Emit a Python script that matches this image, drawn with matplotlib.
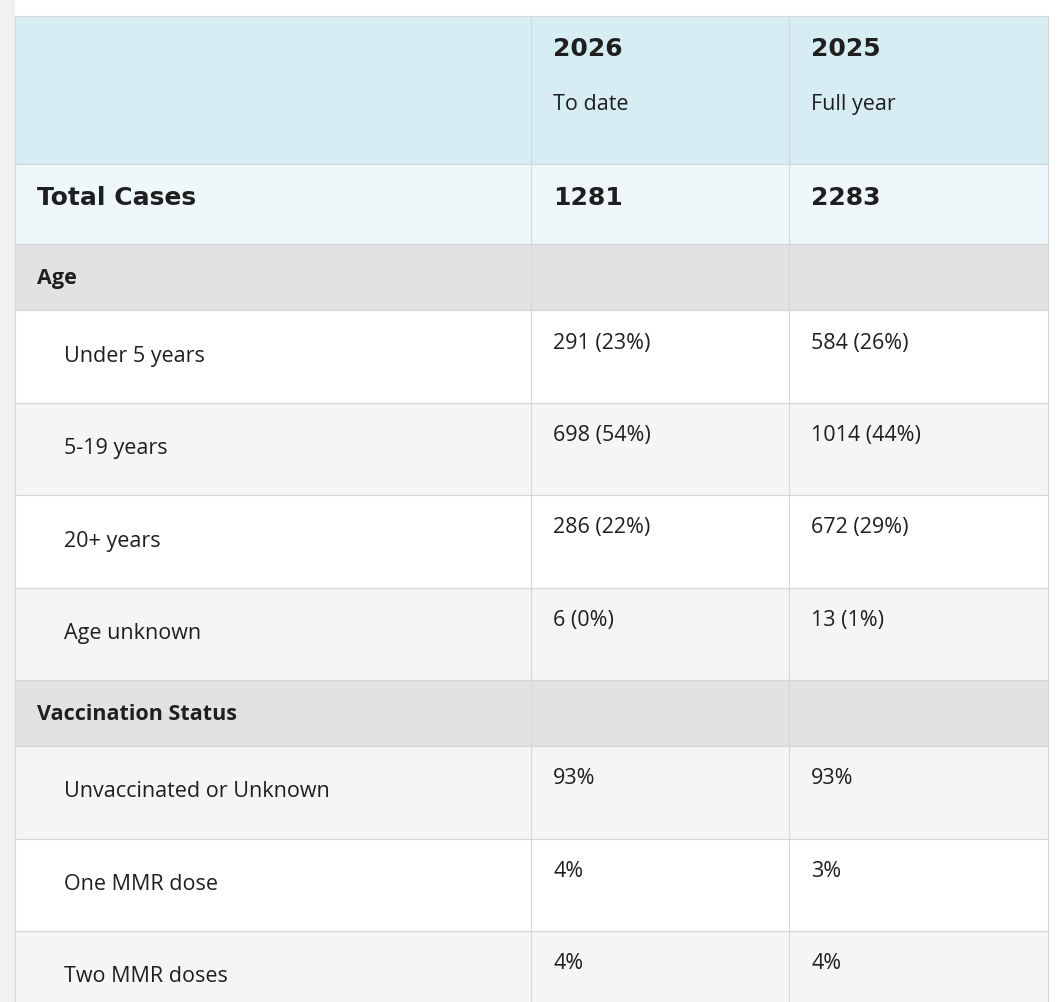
import matplotlib.pyplot as plt
from matplotlib.patches import Rectangle

W, H = 1063, 1003

col_edges = [15, 531, 789, 1048]
headers = [("2026", "To date"), ("2025", "Full year")]
total_label = "Total Cases"
totals = ["1281", "2283"]

sections = [
    ("Age", [
        ("Under 5 years", "291 (23%)", "584 (26%)"),
        ("5-19 years", "698 (54%)", "1014 (44%)"),
        ("20+ years", "286 (22%)", "672 (29%)"),
        ("Age unknown", "6 (0%)", "13 (1%)"),
    ]),
    ("Vaccination Status", [
        ("Unvaccinated or Unknown", "93%", "93%"),
        ("One MMR dose", "4%", "3%"),
        ("Two MMR doses", "4%", "4%"),
    ]),
]

HEADER_BG = "#d6eef3"
TOTAL_BG = "#eef8fa"
SECTION_BG = "#e1e2e3"
ROW_BG = ["#ffffff", "#f4f5f7"]
LINE = "#d4d6d8"
TXT = "#1f1f1f"
BODY = "Open Sans"
HEAD = "DejaVu Sans"

fig = plt.figure(figsize=(W / 100, H / 100), dpi=100)
ax = fig.add_axes([0, 0, 1, 1])
ax.set_xlim(0, W)
ax.set_ylim(H, 0)
ax.axis("off")
fig.patch.set_facecolor("white")
ax.add_patch(Rectangle((0, 0), 15, H, color="#f0f1f2", lw=0))

left, right = col_edges[0], col_edges[-1]


def band(y0, y1, color):
    ax.add_patch(Rectangle((left, y0), right - left, y1 - y0, facecolor=color, edgecolor=LINE, lw=0.8))
    for x in col_edges[1:-1]:
        ax.plot([x, x], [y0, y1], color=LINE, lw=0.8)


# header
band(17, 165, HEADER_BG)
for i, (yr, sub) in enumerate(headers):
    x = col_edges[i + 1] + 22
    ax.text(x, 49, yr, fontsize=18, fontweight="bold", family=HEAD, color=TXT, va="center")
    ax.text(x, 104, sub, fontsize=15.5, family=BODY, color=TXT, va="center")

# totals
band(165, 245, TOTAL_BG)
ax.text(37, 198, total_label, fontsize=18, fontweight="bold", family=HEAD, color=TXT, va="center")
for i, t in enumerate(totals):
    ax.text(col_edges[i + 1] + 22, 198, t, fontsize=18, fontweight="bold", family=HEAD, color=TXT, va="center")

y = 245
sec_h, row_h = 66, 92.5
for s, (title, rows) in enumerate(sections):
    band(y, y + sec_h, SECTION_BG)
    ax.text(37, y + sec_h / 2, title, fontsize=15.5, fontweight="bold", family=BODY, color=TXT, va="center")
    y += sec_h
    for k, (lab, a, b) in enumerate(rows):
        band(y, y + row_h, ROW_BG[(k + s) % 2])
        ax.text(64, y + 45, lab, fontsize=15.5, family=BODY, color=TXT, va="center")
        ax.text(col_edges[1] + 22, y + 32, a, fontsize=15.5, family=BODY, color=TXT, va="center")
        ax.text(col_edges[2] + 22, y + 32, b, fontsize=15.5, family=BODY, color=TXT, va="center")
        y += row_h

fig.savefig("out.png", dpi=100)
